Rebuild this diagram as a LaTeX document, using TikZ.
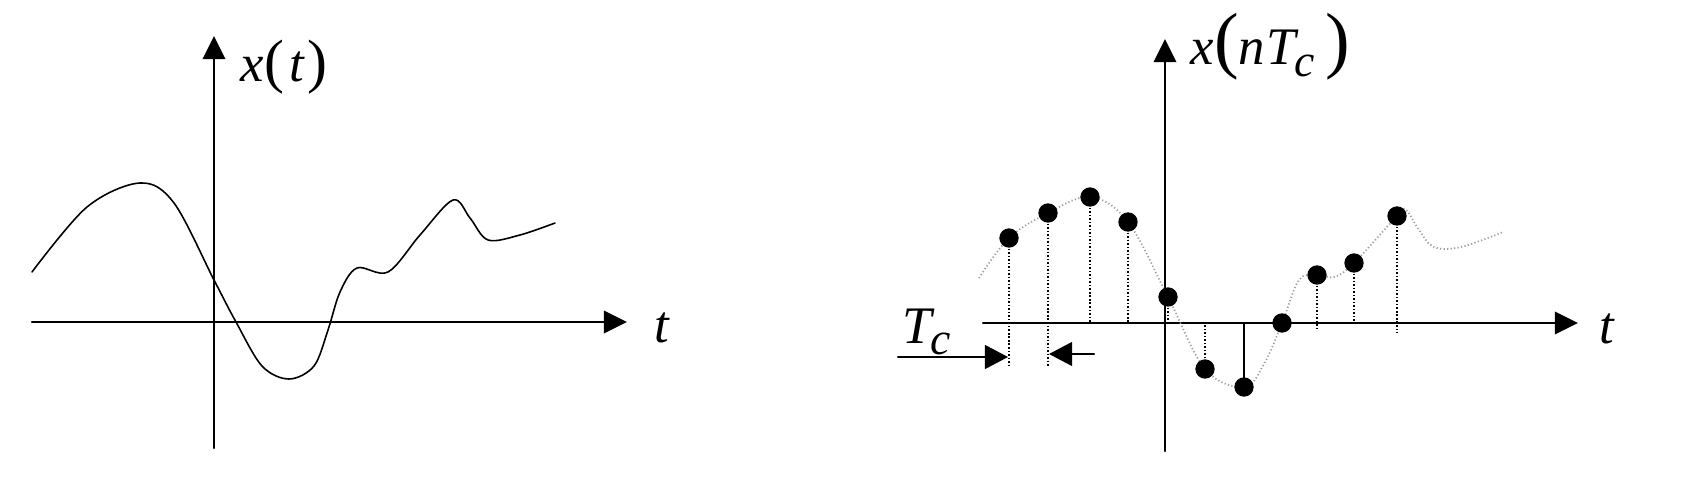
\documentclass[tikz,border=0pt]{standalone}
\usepackage{fontspec}
\setmainfont{Liberation Serif}
\newfontfamily\labelfont{Liberation Serif}
\usetikzlibrary{arrows.meta}

\newcommand{\bigpar}[1]{{\fontsize{21}{21}\selectfont\upshape #1}}
\newcommand{\midpar}[1]{{\fontsize{17}{17}\selectfont\upshape #1}}

\begin{document}
\begin{tikzpicture}[x=0.01cm,y=-0.01cm,line join=round,line cap=round,
  axis/.style={line width=0.6pt,-{Triangle[length=6.6pt,width=6.4pt]}},
  signal/.style={line width=0.45pt},
  sampled/.style={line width=0.5pt,gray!75,line cap=butt,dash pattern=on 0.35pt off 0.65pt},
  stem/.style={line width=0.5pt,line cap=butt,dash pattern=on 0.45pt off 0.55pt},
  period/.style={line width=0.6pt,-{Triangle[length=6.6pt,width=6.8pt]}},
  lbl/.style={inner sep=0pt,anchor=base west,font=\labelfont\fontsize{15}{15}\selectfont\itshape}]
\useasboundingbox (0,0) rectangle (1691,488);
% continuous signal
\coordinate (A1) at (32,322);   \coordinate (B1) at (627,322);
\coordinate (C1) at (214,448);  \coordinate (D1) at (214,36);
\draw[axis] (A1)--(B1);
\draw[axis] (C1)--(D1);
\draw[signal] plot[smooth,tension=0.55] coordinates {(32,272) (87,207) (140,183) (174,203)
  (214,280) (236,322) (262,366) (289,379) (314,366) (328,330) (340,292) (357,268) (388,272)
  (420,235) (453,200) (470,218) (488,240) (520,235) (555,223)};
\node[lbl] (xt) at (240,82) {x\midpar{(}\kern1.5pt t\kern1pt\midpar{)}};
\node[lbl] (t1) at (654,342) {t};
% sampled signal
\coordinate (A2) at (983,323);  \coordinate (B2) at (1578,323);
\coordinate (C2) at (1165,451); \coordinate (D2) at (1165,39);
\draw[axis] (A2)--(B2);
\draw[axis] (C2)--(D2);
\draw[sampled] plot[smooth,tension=0.6] coordinates {(979,278) (1009,238) (1048,213) (1090,197)
  (1128,222) (1168,297) (1205,369) (1244,387) (1264,364) (1282,323) (1299,280) (1317,275)
  (1334,277) (1354,263) (1397,216) (1406,210) (1419,230) (1434,247) (1461,247) (1503,232)};
\foreach \i/\x/\y in {1/1009/238,2/1048/213,3/1090/197,4/1128/222,5/1168/297,6/1205/369,
  7/1244/387,8/1282/323,9/1317/275,10/1354/263,11/1397/216}{\coordinate (s\i) at (\x,\y);}
\foreach \i/\e in {1/367,2/367,3/323,4/323,5/323,6/323,9/328,10/323,11/333}{
  \draw[stem] (s\i) -- (s\i |- 0,\e);}
\draw[line width=0.5pt] (s7) -- (s7 |- A2);
\foreach \i in {1,...,11}{\fill (s\i) circle (2.75pt);}
\node[lbl] (xn) at (1190,65) {x\bigpar{(}n\kern0.5pt T\kern-0.5pt\raisebox{-3.4pt}{\fontsize{13}{13}\selectfont c}\kern3pt\bigpar{)}};
\node[lbl] (t2) at (1599,343) {t};
% sampling period
\node[lbl] (tc) at (902,343) {T\kern-0.5pt\raisebox{-3.4pt}{\fontsize{13}{13}\selectfont c}};
\coordinate (P1) at (898,357);  \coordinate (Q1) at (1008,357);
\coordinate (P2) at (1094,354); \coordinate (Q2) at (1049,354);
\draw[period] (P1)--(Q1);
\draw[period] (P2)--(Q2);
\end{tikzpicture}
\end{document}
